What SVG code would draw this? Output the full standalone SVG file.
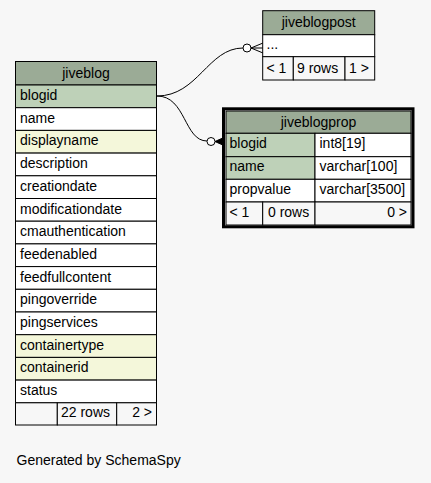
<svg xmlns="http://www.w3.org/2000/svg" width="431" height="483" viewBox="0 0 431 483">
<style>
text{font-family:"Liberation Sans",Arial,sans-serif;font-size:14px;fill:#000}
.c{stroke:#000;stroke-width:1}
.h{fill:#9bab96}
.k{fill:#bed1b8}
.i{fill:#f4f7da}
.w{fill:#ffffff}
.f{fill:#f7f7f7}
.m{text-anchor:middle}
.r{text-anchor:end}
.edge{fill:none;stroke:#000;stroke-width:1}
</style>
<rect width="431" height="483" fill="#f7f7f7"/>
<g id="connectors">
<path class="edge" d="M157,96 C198,96 208,48 243,48"/>
<circle cx="247" cy="48" r="4" fill="#fff" stroke="#000"/>
<path class="edge" d="M251,48 L263,48 M251,48 L263,43 M251,48 L263,53"/>
<path class="edge" d="M157,96 C186,96 184,141 207,141"/>
<circle cx="211" cy="141.5" r="4" fill="#fff" stroke="#000"/>
<path d="M215,141.5 L225,137 L225,146 Z" fill="#000" stroke="#000" stroke-width="1"/>
</g>
<g id="jiveblog">
<rect class="c h" x="15.5" y="61.5" width="141" height="23.5"/>
<text class="m" x="86" y="77.5">jiveblog</text>
<rect class="c k" x="15.5" y="85" width="141" height="22.7"/>
<text x="20" y="100">blogid</text>
<rect class="c w" x="15.5" y="107.7" width="141" height="22.7"/>
<text x="20" y="122.7">name</text>
<rect class="c i" x="15.5" y="130.4" width="141" height="22.7"/>
<text x="20" y="145.4">displayname</text>
<rect class="c w" x="15.5" y="153.1" width="141" height="22.7"/>
<text x="20" y="168.1">description</text>
<rect class="c w" x="15.5" y="175.8" width="141" height="22.7"/>
<text x="20" y="190.8">creationdate</text>
<rect class="c w" x="15.5" y="198.5" width="141" height="22.7"/>
<text x="20" y="213.5">modificationdate</text>
<rect class="c w" x="15.5" y="221.2" width="141" height="22.7"/>
<text x="20" y="236.2">cmauthentication</text>
<rect class="c w" x="15.5" y="243.9" width="141" height="22.7"/>
<text x="20" y="258.9">feedenabled</text>
<rect class="c w" x="15.5" y="266.6" width="141" height="22.7"/>
<text x="20" y="281.6">feedfullcontent</text>
<rect class="c w" x="15.5" y="289.3" width="141" height="22.7"/>
<text x="20" y="304.3">pingoverride</text>
<rect class="c w" x="15.5" y="312" width="141" height="22.7"/>
<text x="20" y="327">pingservices</text>
<rect class="c i" x="15.5" y="334.7" width="141" height="22.7"/>
<text x="20" y="349.7">containertype</text>
<rect class="c i" x="15.5" y="357.4" width="141" height="22.7"/>
<text x="20" y="372.4">containerid</text>
<rect class="c w" x="15.5" y="380.1" width="141" height="22.7"/>
<text x="20" y="395.1">status</text>
<rect class="c f" x="15.5" y="402.8" width="41.8" height="22.2"/>
<rect class="c f" x="57.3" y="402.8" width="59.4" height="22.2"/>
<rect class="c f" x="116.7" y="402.8" width="39.8" height="22.2"/>
<text x="61" y="417">22 rows</text>
<text class="r" x="152" y="417">2 &gt;</text>
</g>
<g id="jiveblogpost">
<rect class="c h" x="262.7" y="10.7" width="112" height="24"/>
<text class="m" x="318.7" y="26.5">jiveblogpost</text>
<rect class="c w" x="262.7" y="34.7" width="112" height="22"/>
<text x="266.5" y="49">...</text>
<rect class="c f" x="262.7" y="56.7" width="30.6" height="23.3"/>
<rect class="c f" x="293.3" y="56.7" width="51.7" height="23.3"/>
<rect class="c f" x="345" y="56.7" width="29.7" height="23.3"/>
<text x="266.5" y="72.5">&lt; 1</text>
<text x="297" y="72.5">9 rows</text>
<text x="349" y="72.5">1 &gt;</text>
</g>
<g id="jiveblogprop">
<rect x="223.5" y="108.8" width="189.5" height="118" fill="#f7f7f7" stroke="#000" stroke-width="3"/>
<rect class="c h" x="226" y="111" width="185" height="22.3"/>
<text class="m" x="318.5" y="127">jiveblogprop</text>
<rect class="c k" x="226" y="133.3" width="89" height="23.4"/>
<rect class="c w" x="315" y="133.3" width="96" height="23.4"/>
<text x="229.5" y="148">blogid</text>
<text x="319.5" y="148">int8[19]</text>
<rect class="c k" x="226" y="156.7" width="89" height="22.6"/>
<rect class="c w" x="315" y="156.7" width="96" height="22.6"/>
<text x="229.5" y="171">name</text>
<text x="319.5" y="171">varchar[100]</text>
<rect class="c w" x="226" y="179.3" width="89" height="22.7"/>
<rect class="c w" x="315" y="179.3" width="96" height="22.7"/>
<text x="229.5" y="194">propvalue</text>
<text x="319.5" y="194">varchar[3500]</text>
<rect class="c f" x="226" y="202" width="36.7" height="23"/>
<rect class="c f" x="262.7" y="202" width="52.3" height="23"/>
<rect class="c f" x="315" y="202" width="96" height="23"/>
<text x="229.5" y="217">&lt; 1</text>
<text x="268" y="217">0 rows</text>
<text class="r" x="407" y="217">0 &gt;</text>
</g>
<text x="16.5" y="465">Generated by SchemaSpy</text>
</svg>
